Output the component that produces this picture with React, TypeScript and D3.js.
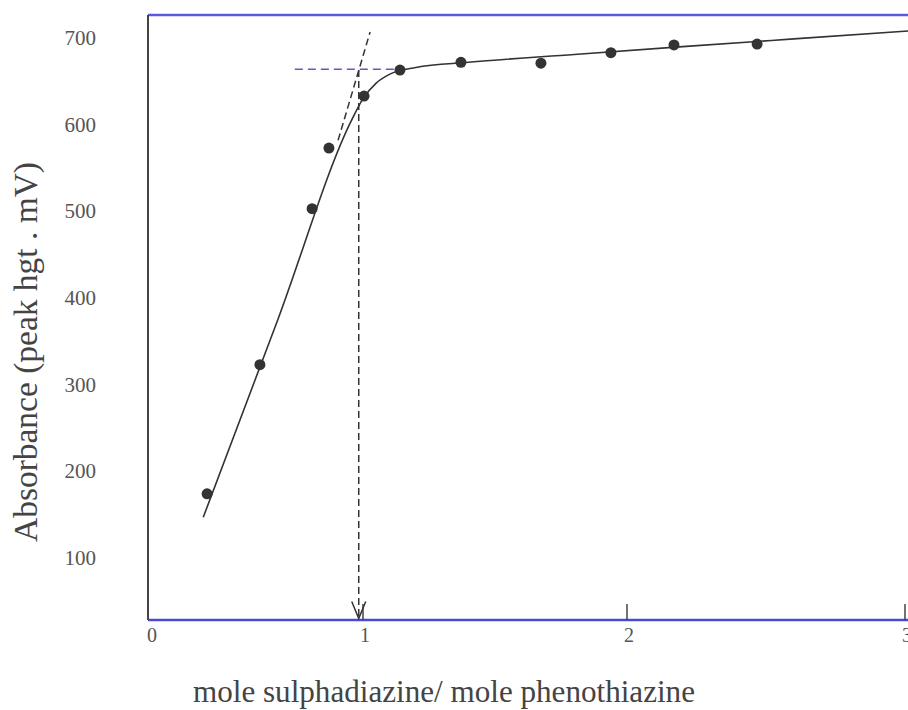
import React from "react";
import * as d3 from "d3";

const xTicks = [0, 1, 2, 3];
const yTicks = [100, 200, 300, 400, 500, 600, 700];

const pointX = [0.268, 0.516, 0.761, 0.84, 1.004, 1.14, 1.371, 1.674, 1.939, 2.169, 2.468];
const pointY = [174, 323, 503, 573, 633, 663, 672, 671, 683, 692, 693];

const fitX = [0.25, 0.6, 0.95, 1.0, 1.05, 1.1, 1.2, 1.4, 1.8, 2.2, 2.6, 3.05];
const fitY = [147, 375, 607, 630, 648, 658, 666, 672, 681, 690, 699, 709];

const tangentX = [0.883, 1.027];
const tangentY = [582, 707];

const plateauDashX = [0.68, 1.13];
const plateauDashY = [664, 664];

const markerX = [0.98, 0.98];
const markerY = [663, 29];

const W = 908;
const H = 710;

export default function App() {
  const x = d3.scaleLinear().domain([0, 1, 2, 3, 3.1]).range([150, 363, 627, 905, 933]);
  const y = d3.scaleLinear().domain([100, 700]).range([558, 38]);

  const top = 15;
  const bottom = 620;
  const left = 148;

  const line = d3
    .line<[number, number]>()
    .x((d) => x(d[0]))
    .y((d) => y(d[1]));
  const smooth = d3
    .line<[number, number]>()
    .x((d) => x(d[0]))
    .y((d) => y(d[1]))
    .curve(d3.curveMonotoneX);

  const fitPts = fitX.map((v, i) => [v, fitY[i]] as [number, number]);
  const tanPts = tangentX.map((v, i) => [v, tangentY[i]] as [number, number]);
  const platPts = plateauDashX.map((v, i) => [v, plateauDashY[i]] as [number, number]);
  const mx = x(markerX[0]);
  const myTop = y(markerY[0]);
  const myBot = y(markerY[1]);

  return (
    <svg
      width={W}
      height={H}
      style={{ position: "absolute", left: 0, top: 0, display: "block", background: "#fff" }}
      fontFamily="'Liberation Serif', 'DejaVu Serif', serif"
    >
      {/* frame */}
      <line x1={left} x2={W} y1={top} y2={top} stroke="#5a5ae0" strokeWidth={2.5} />
      <line x1={left} x2={W} y1={bottom} y2={bottom} stroke="#4a4ad0" strokeWidth={2.5} />
      <line x1={left} x2={left} y1={top} y2={bottom} stroke="#444" strokeWidth={2} />

      {/* x ticks */}
      {xTicks.map((t) => (
        <g key={t}>
          {t > 0 && (
            <line x1={x(t)} x2={x(t)} y1={bottom} y2={bottom - 16} stroke="#444" strokeWidth={1.5} />
          )}
          <text x={x(t) + 2} y={642} textAnchor="middle" fontSize={20} fill="#555">
            {t}
          </text>
        </g>
      ))}

      {/* y tick labels */}
      {yTicks.map((t) => (
        <text key={t} x={96} y={y(t) + 7} textAnchor="end" fontSize={21} fill="#555">
          {t}
        </text>
      ))}

      {/* axis titles */}
      <text
        x={444}
        y={702}
        textAnchor="middle"
        fontSize={31}
        fill="#444"
        textLength={502}
        lengthAdjust="spacingAndGlyphs"
      >
        mole sulphadiazine/ mole phenothiazine
      </text>
      <text
        transform={`translate(37, 352) rotate(-90)`}
        textAnchor="middle"
        fontSize={33}
        fill="#444"
        textLength={380}
        lengthAdjust="spacingAndGlyphs"
      >
        Absorbance (peak hgt . mV)
      </text>

      {/* dashed helper lines */}
      <path d={line(platPts) || ""} fill="none" stroke="#7a4fb5" strokeWidth={1.5} strokeDasharray="8,5" />
      <path d={line(tanPts) || ""} fill="none" stroke="#333" strokeWidth={1.5} strokeDasharray="7,4" />
      <line x1={mx} x2={mx} y1={myTop} y2={myBot - 1} stroke="#333" strokeWidth={1.5} strokeDasharray="7,4" />
      <path
        d={`M${mx - 7},${myBot - 18} L${mx},${myBot - 1} L${mx + 7},${myBot - 18}`}
        fill="none"
        stroke="#333"
        strokeWidth={1.5}
      />

      {/* fitted curve */}
      <path d={smooth(fitPts) || ""} fill="none" stroke="#333" strokeWidth={1.6} />

      {/* data points */}
      {pointX.map((v, i) => (
        <circle key={i} cx={x(v)} cy={y(pointY[i])} r={5.5} fill="#333" />
      ))}
    </svg>
  );
}
